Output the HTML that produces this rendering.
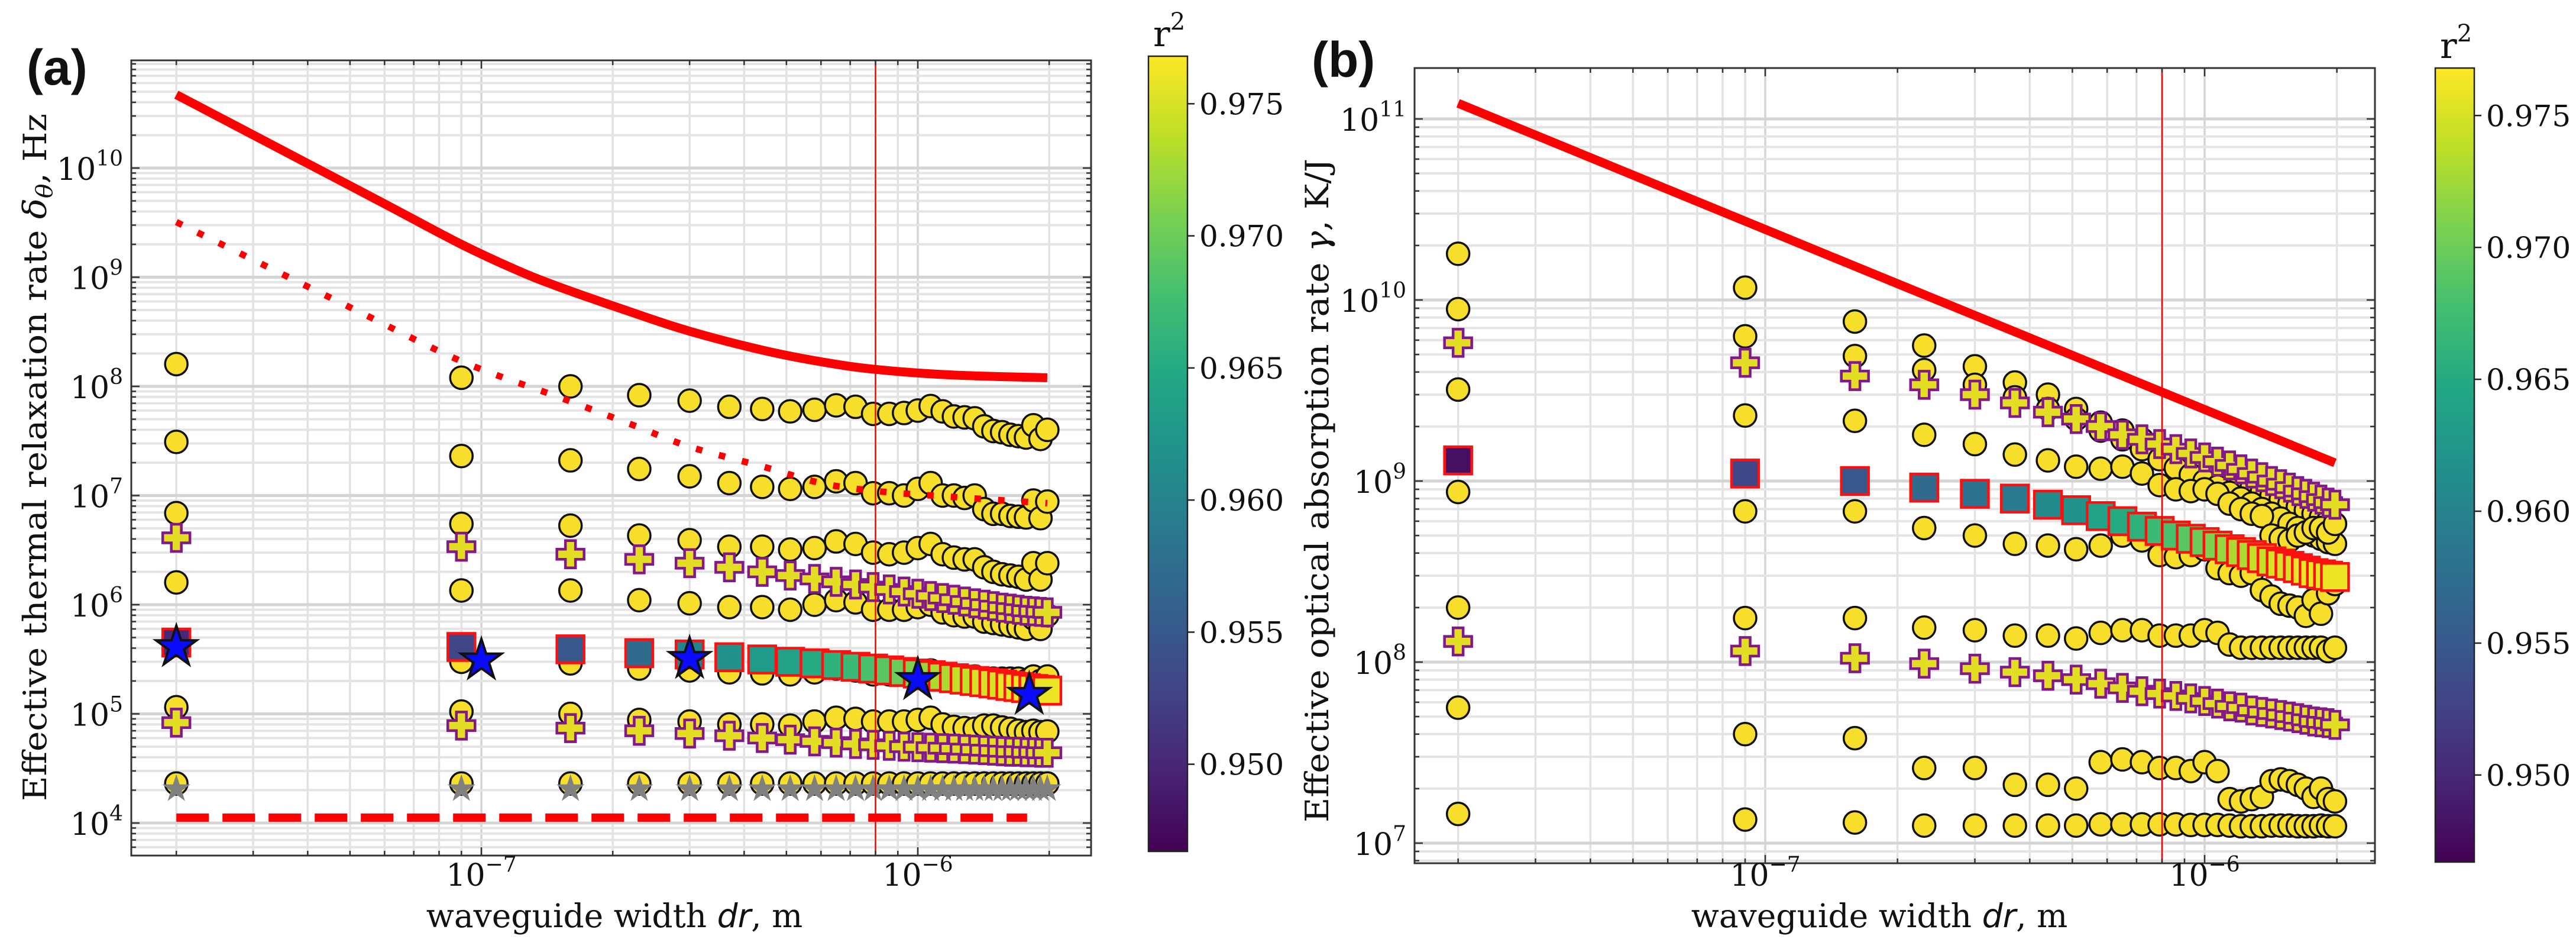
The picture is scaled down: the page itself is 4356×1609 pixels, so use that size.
<!DOCTYPE html>
<html><head><meta charset="utf-8">
<style>
html,body{margin:0;padding:0;background:#fff;}
svg{display:block;}
text{font-family:"DejaVu Serif","Liberation Serif",serif;fill:#111;}
</style></head>
<body>
<svg id="fig" width="4356" height="1609" viewBox="0 0 4356 1609" xmlns="http://www.w3.org/2000/svg">
<defs>
<linearGradient id="vir" x1="0" y1="1" x2="0" y2="0">
<stop offset="0" stop-color="#440154"/><stop offset="0.1" stop-color="#482475"/><stop offset="0.2" stop-color="#414487"/><stop offset="0.3" stop-color="#355f8d"/><stop offset="0.4" stop-color="#2a788e"/><stop offset="0.5" stop-color="#21918c"/><stop offset="0.6" stop-color="#22a884"/><stop offset="0.7" stop-color="#44bf70"/><stop offset="0.8" stop-color="#7ad151"/><stop offset="0.9" stop-color="#bddf26"/><stop offset="1" stop-color="#fde725"/>
</linearGradient>
<clipPath id="clipA"><rect x="222" y="102" width="1623" height="1344"/></clipPath>
<clipPath id="clipB"><rect x="2392" y="115" width="1624" height="1344"/></clipPath>
</defs>
<text x="45" y="143" style="font-family:'Liberation Sans',sans-serif;font-weight:bold;font-size:84px">(a)</text>
<text x="2218" y="130" style="font-family:'Liberation Sans',sans-serif;font-weight:bold;font-size:84px">(b)</text>
<g id="layer"></g>
</svg>
<script>
// ---------- shared categories ----------
const widthsNm = [20,90,160,230,300,370,440,510,580,650,720,790,860,930,1000,1070,1140,1210,1280,1350,1420,1490,1560,1630,1700,1770,1840,1910,1980];
const xTickLabels = ["\u22127","\u22126"];
const xTickExp = [-7,-6];
const cbTicks = [0.950,0.955,0.960,0.965,0.970,0.975];
const cbTickLabels = ["0.950","0.955","0.960","0.965","0.970","0.975"];
const vLineWidth = 800;

// ---------- panel (a) data ----------
const aC1 = [1.6e8,1.2e8,1.0e8,8.3e7,7.4e7,6.5e7,6.2e7,5.9e7,6.1e7,6.7e7,6.5e7,5.6e7,5.6e7,5.7e7,6.0e7,6.6e7,5.9e7,5.3e7,5.2e7,5.1e7,4.3e7,3.9e7,3.8e7,3.6e7,3.5e7,3.4e7,4.4e7,3.3e7,4.0e7];
const aC2 = [3.1e7,2.3e7,2.1e7,1.75e7,1.5e7,1.3e7,1.2e7,1.15e7,1.2e7,1.35e7,1.3e7,1.05e7,1.05e7,1.0e7,1.15e7,1.3e7,1.0e7,1.0e7,9.5e6,1.0e7,7.5e6,6.8e6,6.8e6,6.5e6,6.4e6,6.3e6,9.0e6,6.2e6,8.8e6];
const aC3 = [6.9e6,5.5e6,5.3e6,4.3e6,3.9e6,3.4e6,3.4e6,3.2e6,3.3e6,3.8e6,3.6e6,3.0e6,2.9e6,3.0e6,3.3e6,3.6e6,2.9e6,2.7e6,2.6e6,2.6e6,2.2e6,2.0e6,1.9e6,1.85e6,1.8e6,1.7e6,2.4e6,1.7e6,2.4e6];
const aC4 = [1.6e6,1.35e6,1.35e6,1.1e6,1.03e6,9.5e5,9.5e5,9.0e5,1.0e6,1.1e6,1.05e6,9.0e5,9.0e5,9.0e5,9.5e5,1.0e6,8.5e5,8.0e5,7.8e5,7.8e5,7.0e5,6.8e5,6.6e5,6.4e5,6.2e5,6.0e5,7.5e5,6.0e5,8.0e5];
const aC5 = [4.4e5,3.0e5,2.9e5,2.6e5,2.5e5,2.4e5,2.35e5,2.3e5,2.4e5,2.6e5,2.5e5,2.3e5,2.3e5,2.3e5,2.4e5,2.5e5,2.3e5,2.2e5,2.2e5,2.2e5,2.1e5,2.1e5,2.1e5,2.1e5,2.1e5,2.0e5,2.2e5,2.0e5,2.2e5];
const aC6 = [1.15e5,1.05e5,1.0e5,8.8e4,8.5e4,8.0e4,8.0e4,7.8e4,8.5e4,9.2e4,9.0e4,8.5e4,8.5e4,8.5e4,8.8e4,9.2e4,8.0e4,7.6e4,7.4e4,7.3e4,7.8e4,7.8e4,7.5e4,7.3e4,7.0e4,6.8e4,7.0e4,6.8e4,6.9e4];
const aC7 = [2.3e4,2.3e4,2.3e4,2.3e4,2.3e4,2.3e4,2.3e4,2.3e4,2.3e4,2.3e4,2.3e4,2.3e4,2.3e4,2.3e4,2.3e4,2.3e4,2.3e4,2.3e4,2.3e4,2.3e4,2.3e4,2.3e4,2.3e4,2.3e4,2.3e4,2.3e4,2.3e4,2.3e4,2.3e4];
const aGray = [2.05e4,2.05e4,2.05e4,2.05e4,2.05e4,2.05e4,2.05e4,2.05e4,2.05e4,2.05e4,2.05e4,2.05e4,2.05e4,2.05e4,2.05e4,2.05e4,2.05e4,2.05e4,2.05e4,2.05e4,2.05e4,2.05e4,2.05e4,2.05e4,2.05e4,2.05e4,2.05e4,2.05e4,2.05e4];
const aP1 = [4.1e6,3.4e6,2.9e6,2.6e6,2.4e6,2.2e6,2.0e6,1.85e6,1.72e6,1.62e6,1.53e6,1.45e6,1.38e6,1.32e6,1.26e6,1.2e6,1.15e6,1.11e6,1.07e6,1.03e6,1.0e6,9.7e5,9.4e5,9.2e5,9.0e5,8.8e5,8.7e5,8.6e5,8.5e5];
const aP2 = [8.3e4,7.8e4,7.4e4,7.0e4,6.6e4,6.3e4,6.0e4,5.8e4,5.6e4,5.45e4,5.3e4,5.2e4,5.1e4,5.0e4,4.95e4,4.9e4,4.85e4,4.8e4,4.75e4,4.7e4,4.65e4,4.6e4,4.55e4,4.5e4,4.5e4,4.45e4,4.45e4,4.4e4,4.4e4];
const aSq = [4.5e5,4.1e5,3.9e5,3.6e5,3.5e5,3.3e5,3.15e5,3.0e5,2.9e5,2.8e5,2.7e5,2.6e5,2.5e5,2.42e5,2.34e5,2.26e5,2.19e5,2.12e5,2.06e5,2.0e5,1.95e5,1.9e5,1.85e5,1.8e5,1.76e5,1.72e5,1.69e5,1.66e5,1.63e5];
const aSqR2 = [0.950,0.953,0.955,0.957,0.960,0.962,0.963,0.964,0.965,0.966,0.967,0.968,0.969,0.970,0.971,0.972,0.973,0.973,0.974,0.974,0.975,0.975,0.975,0.976,0.976,0.976,0.976,0.976,0.976];
const aStarW = [20,100,300,1000,1800];
const aStarV = [4.1e5,3.1e5,3.2e5,2.05e5,1.5e5];
const aSolidW = [20,40,60,90,120,150,220,300,440,600,800,1200,1980];
const aSolidV = [4.7e10,1.1e10,4.7e9,2.0e9,1.17e9,8.2e8,4.8e8,3.2e8,2.15e8,1.68e8,1.43e8,1.27e8,1.2e8];
const aDotW = [20,50,90,150,220,300,440,600,800,1200,1980];
const aDotV = [3.2e9,5.3e8,1.7e8,8e7,4.5e7,2.8e7,1.85e7,1.3e7,1.1e7,9.7e6,8.5e6];
const aDashW = [20,1780];
const aDashV = [1.12e4,1.12e4];

// ---------- panel (b) data ----------
const bC1 = [1.8e10,1.17e10,7.6e9,5.6e9,4.3e9,3.5e9,3.0e9,2.5e9,2.1e9,1.9e9,1.7e9,1.5e9,1.38e9,1.27e9,1.18e9,1.1e9,1.03e9,9.7e8,9.2e8,8.7e8,8.3e8,7.9e8,7.5e8,7.2e8,6.9e8,6.6e8,6.3e8,6.0e8,5.8e8];
const bC2 = [8.9e9,6.3e9,4.9e9,4.1e9,3.4e9,2.9e9,2.5e9,2.2e9,1.9e9,1.7e9,1.5e9,1.32e9,1.18e9,1.08e9,1.0e9,9.3e8,8.6e8,8.0e8,7.5e8,7.0e8,6.6e8,6.2e8,5.8e8,5.5e8,5.2e8,5.0e8,4.8e8,4.6e8,4.5e8];
const bC3 = [3.2e9,2.3e9,2.15e9,1.8e9,1.6e9,1.4e9,1.3e9,1.2e9,1.17e9,1.2e9,1.1e9,9.5e8,9.0e8,8.8e8,9.0e8,8.5e8,7.5e8,7.0e8,6.6e8,6.4e8,5.0e8,4.8e8,4.7e8,5.0e8,5.2e8,5.5e8,5.5e8,5.2e8,5.8e8];
const bC4 = [8.7e8,6.8e8,6.8e8,5.5e8,5.0e8,4.5e8,4.4e8,4.2e8,4.4e8,5.0e8,4.7e8,3.9e8,3.8e8,3.9e8,4.2e8,3.3e8,3.1e8,3.0e8,3.1e8,2.5e8,2.3e8,2.1e8,2.05e8,2.0e8,1.8e8,2.2e8,1.85e8,2.4e8,2.7e8];
const bC5 = [2.0e8,1.75e8,1.75e8,1.55e8,1.5e8,1.4e8,1.4e8,1.35e8,1.45e8,1.5e8,1.5e8,1.4e8,1.4e8,1.4e8,1.5e8,1.45e8,1.25e8,1.2e8,1.2e8,1.2e8,1.2e8,1.2e8,1.2e8,1.2e8,1.2e8,1.2e8,1.2e8,1.15e8,1.2e8];
const bC6 = [5.6e7,4.0e7,3.8e7,2.6e7,2.6e7,2.1e7,2.1e7,2.0e7,2.8e7,2.9e7,2.8e7,2.6e7,2.6e7,2.5e7,2.8e7,2.5e7,1.75e7,1.7e7,1.75e7,1.8e7,2.2e7,2.25e7,2.2e7,2.1e7,2.0e7,1.8e7,2.0e7,1.75e7,1.7e7];
const bC7 = [1.45e7,1.35e7,1.3e7,1.25e7,1.25e7,1.25e7,1.25e7,1.25e7,1.27e7,1.27e7,1.27e7,1.27e7,1.27e7,1.26e7,1.26e7,1.26e7,1.25e7,1.24e7,1.24e7,1.24e7,1.25e7,1.25e7,1.25e7,1.24e7,1.24e7,1.24e7,1.25e7,1.24e7,1.24e7];
const bP1 = [5.8e9,4.5e9,3.8e9,3.4e9,3.0e9,2.7e9,2.4e9,2.2e9,2.0e9,1.8e9,1.7e9,1.6e9,1.5e9,1.42e9,1.35e9,1.28e9,1.22e9,1.16e9,1.1e9,1.05e9,1.0e9,9.6e8,9.2e8,8.8e8,8.5e8,8.2e8,7.9e8,7.6e8,7.4e8];
const bP2 = [1.3e8,1.15e8,1.05e8,9.8e7,9.2e7,8.8e7,8.4e7,8.0e7,7.6e7,7.2e7,6.9e7,6.7e7,6.5e7,6.3e7,6.1e7,5.9e7,5.7e7,5.6e7,5.4e7,5.3e7,5.2e7,5.1e7,5.0e7,4.9e7,4.8e7,4.7e7,4.65e7,4.6e7,4.5e7];
const bSq = [1.3e9,1.1e9,1.0e9,9.2e8,8.5e8,8.0e8,7.4e8,6.9e8,6.4e8,6.0e8,5.6e8,5.3e8,5.0e8,4.8e8,4.6e8,4.4e8,4.2e8,4.05e8,3.9e8,3.75e8,3.6e8,3.5e8,3.4e8,3.3e8,3.2e8,3.1e8,3.05e8,3.0e8,2.95e8];
const bSqR2 = [0.948,0.953,0.955,0.957,0.958,0.959,0.961,0.962,0.964,0.965,0.966,0.967,0.968,0.969,0.970,0.971,0.972,0.973,0.973,0.974,0.974,0.975,0.975,0.975,0.976,0.976,0.976,0.976,0.976];
const bSolidW = [20,200,1980];
const bSolidV = [1.22e11,1.23e10,1.26e9];

// ---------- helpers ----------
const NS = "http://www.w3.org/2000/svg";
const layer = document.getElementById('layer');
function mk(tag, attrs, parent){ const e=document.createElementNS(NS,tag); for(const k in attrs) e.setAttribute(k,attrs[k]); (parent||layer).appendChild(e); return e; }
const VMIN=0.9467, VMAX=0.9768;
const VIR=[[68,1,84],[72,36,117],[65,68,135],[53,95,141],[42,120,142],[33,145,140],[34,168,132],[68,191,112],[122,209,81],[189,223,38],[253,231,37]];
function viridis(v){ let t=(v-VMIN)/(VMAX-VMIN); t=Math.max(0,Math.min(1,t)); const s=t*10, i=Math.min(9,Math.floor(s)), f=s-i; const a=VIR[i], b=VIR[i+1]; return 'rgb('+a.map((c,j)=>Math.round(c+(b[j]-c)*f)).join(',')+')'; }
function starPts(cx,cy,R){ const r=R*0.382; let p=[]; for(let i=0;i<10;i++){ const ang=-Math.PI/2+i*Math.PI/5; const rr=i%2?r:R; p.push((cx+rr*Math.cos(ang)).toFixed(1)+','+(cy+rr*Math.sin(ang)).toFixed(1)); } return p.join(' '); }
function plusPath(cx,cy,a,t){ return `M${cx-t},${cy-a}H${cx+t}V${cy-t}H${cx+a}V${cy+t}H${cx+t}V${cy+a}H${cx-t}V${cy+t}H${cx-a}V${cy-t}H${cx-t}Z`; }
function smoothPath(pts){ if(pts.length<3) return pts.map((p,i)=>(i?'L':'M')+p[0].toFixed(1)+','+p[1].toFixed(1)).join('');
  let d='M'+pts[0][0].toFixed(1)+','+pts[0][1].toFixed(1);
  for(let i=0;i<pts.length-1;i++){ const p0=pts[Math.max(0,i-1)],p1=pts[i],p2=pts[i+1],p3=pts[Math.min(pts.length-1,i+2)];
    const c1=[p1[0]+(p2[0]-p0[0])/6,p1[1]+(p2[1]-p0[1])/6], c2=[p2[0]-(p3[0]-p1[0])/6,p2[1]-(p3[1]-p1[1])/6];
    d+=`C${c1[0].toFixed(1)},${c1[1].toFixed(1)} ${c2[0].toFixed(1)},${c2[1].toFixed(1)} ${p2[0].toFixed(1)},${p2[1].toFixed(1)}`; }
  return d; }

function panel(P){
  const X = w => P.x0 + P.dec*(Math.log10(w*1e-9)+7);
  const Y = v => P.y0 - P.ydec*(Math.log10(v)-P.yref);
  const g = mk('g',{});
  
  
  const grid = mk('g',{'clip-path':`url(#${P.clip})`},g);
  
  
  for(let d=-8; d<=-6; d++) for(let m=1;m<=9;m++){ const x=P.x0+P.dec*(Math.log10(m)+d+7); if(x<P.L||x>P.R) continue; mk('line',{x1:x,x2:x,y1:P.T,y2:P.B,stroke:m===1?'#d4d4d4':'#e2e2e2','stroke-width':3.5},grid); }
  for(let d=P.ymin; d<=P.ymax; d++) for(let m=1;m<=9;m++){ const y=Y(m*Math.pow(10,d)); if(y<P.T||y>P.B) continue; mk('line',{x1:P.L,x2:P.R,y1:y,y2:y,stroke:m===1?'#d4d4d4':'#e4e4e4','stroke-width':m===1?5:4},grid); }
  const mg = mk('g',{'clip-path':`url(#${P.clip})`},g);
  P.circles.forEach((ser,si)=>{ ser.forEach((v,k)=>{ const c=mk('circle',{cx:X(widthsNm[k]),cy:Y(v),r:19,fill:'#f6de2a',stroke:'#111','stroke-width':3.5},mg);
    
     }); });
  if(P.gray){ P.gray.forEach((v,k)=>{ const s=mk('polygon',{points:starPts(X(widthsNm[k]),Y(v),25),fill:'#808080'},mg);
    
     }); }
  P.pluses.forEach(ser=>{ ser.forEach((v,k)=>{ const p=mk('path',{d:plusPath(X(widthsNm[k]),Y(v),23,8.5),fill:'#e3dd24',stroke:'#82188c','stroke-width':4.5,'stroke-linejoin':'miter'},mg);
    
     }); });
  P.sq.forEach((v,k)=>{ const cx=X(widthsNm[k]), cy=Y(v); const s=mk('rect',{x:cx-23,y:cy-23,width:46,height:46,fill:viridis(P.sqR2[k]),stroke:'#ff1010','stroke-width':4.5},mg);
    
     });
  if(P.starW){ P.starW.forEach((w,k)=>{ const s=mk('polygon',{points:starPts(X(w),Y(P.starV[k]),36),fill:'#0a0aff',stroke:'#111','stroke-width':4,'stroke-linejoin':'miter'},mg);
    
     }); }
  P.curves.forEach(c=>{ const pts=c.w.map((w,i)=>[X(w),Y(c.v[i])]); const e=mk('path',{d:smoothPath(pts),fill:'none',stroke:'#ff0000','stroke-width':c.sw,'stroke-dasharray':c.dash||'none'},mg);
    
     });
  const vx=X(vLineWidth);
  const vl=mk('line',{x1:vx,x2:vx,y1:P.T,y2:P.B,stroke:'#ff0000','stroke-width':2.5},mg);
  
  
  const fr=mk('rect',{x:P.L,y:P.T,width:P.R-P.L,height:P.B-P.T,fill:'none',stroke:'#333','stroke-width':3},g);
  
  
  for(let d=-8; d<=-6; d++) for(let m=1;m<=9;m++){ const x=P.x0+P.dec*(Math.log10(m)+d+7); if(x<P.L||x>P.R) continue; const len=m===1?14:8;
    mk('line',{x1:x,x2:x,y1:P.B,y2:P.B-len,stroke:'#333','stroke-width':2.5},g); mk('line',{x1:x,x2:x,y1:P.T,y2:P.T+len,stroke:'#333','stroke-width':2.5},g); }
  for(let d=P.ymin; d<=P.ymax; d++) for(let m=1;m<=9;m++){ const y=Y(m*Math.pow(10,d)); if(y<P.T||y>P.B) continue; const len=m===1?14:8;
    mk('line',{x1:P.L,x2:P.L+len,y1:y,y2:y,stroke:'#333','stroke-width':2.5},g); mk('line',{x1:P.R,x2:P.R-len,y1:y,y2:y,stroke:'#333','stroke-width':2.5},g); }
  xTickExp.forEach((e,i)=>{ const x=P.x0+P.dec*(e+7); const t=mk('text',{x:x,y:1497,'text-anchor':'middle','font-size':52},g);
    
    
    t.innerHTML=`10<tspan font-size="36" dy="-24">${xTickLabels[i]}</tspan>`; });
  for(let d=P.ymin; d<=P.ymax; d++){ const y=Y(Math.pow(10,d)); if(y<P.T||y>P.B) continue; const t=mk('text',{x:P.L-14,y:y+20,'text-anchor':'end','font-size':52},g);
    
    
    t.innerHTML=`10<tspan font-size="36" dy="-24">${d}</tspan>`; }
  const xl=mk('text',{x:P.xlx,y:1567,'text-anchor':'middle','font-size':55},g);
  
  
  xl.innerHTML='waveguide width <tspan font-style="italic" font-family="DejaVu Sans, sans-serif">dr</tspan>, m';
  const yl=mk('text',{x:0,y:0,'text-anchor':'middle','font-size':54,transform:`translate(${P.ylx},${P.ylc}) rotate(-90)`,textLength:P.yllen,lengthAdjust:'spacingAndGlyphs'},g);
  
  
  yl.innerHTML=P.ylabel;
  const cb=mk('rect',{x:P.cbx,y:P.cbt,width:66,height:P.cbb-P.cbt,fill:'url(#vir)',stroke:'#222','stroke-width':2.5},g);
  
  
  const cbY = v => P.cbb - (v-VMIN)/(VMAX-VMIN)*(P.cbb-P.cbt);
  cbTicks.forEach((v,i)=>{ const y=cbY(v); mk('line',{x1:P.cbx+66,x2:P.cbx+78,y1:y,y2:y,stroke:'#222','stroke-width':2.5},g);
    const t=mk('text',{x:P.cbx+86,y:y+18,'font-size':50},g);
    
    
    t.textContent=cbTickLabels[i]; });
  const r2=mk('text',{x:P.cbx+8,y:P.cbt-17,'font-size':60},g);
  
  
  r2.innerHTML='r<tspan font-size="40" dy="-28">2</tspan>';
}

panel({name:'panel-a', clip:'clipA', L:222,R:1845,T:102,B:1446, x0:814, dec:738, y0:1391, ydec:184.5, yref:4, ymin:3, ymax:10,
  circles:[aC1,aC2,aC3,aC4,aC5,aC6,aC7], gray:aGray, pluses:[aP1,aP2], sq:aSq, sqR2:aSqR2, starW:aStarW, starV:aStarV,
  curves:[{name:'red-solid-line',w:aSolidW,v:aSolidV,sw:15},{name:'red-dotted-line',w:aDotW,v:aDotV,sw:11,dash:'11 29'},{name:'red-dashed-line',w:aDashW,v:aDashV,sw:14,dash:'55 23'}],
  xlx:1039, ylx:78, ylc:773, yllen:1162, ylabel:'Effective thermal relaxation rate <tspan font-style="italic">δ</tspan><tspan font-size="38" dy="10" font-style="italic">θ</tspan><tspan dy="-10">, Hz</tspan>',
  cbx:1942, cbt:95, cbb:1439});
panel({name:'panel-b', clip:'clipB', L:2392,R:4016,T:115,B:1459, x0:2985, dec:743, y0:201, ydec:306, yref:11, ymin:6, ymax:11,
  circles:[bC1,bC2,bC3,bC4,bC5,bC6,bC7], gray:null, pluses:[bP1,bP2], sq:bSq, sqR2:bSqR2, starW:null,
  curves:[{name:'red-solid-line',w:bSolidW,v:bSolidV,sw:15}],
  xlx:3178, ylx:2246, ylc:829, yllen:1122, ylabel:'Effective optical absorption rate <tspan font-style="italic">γ</tspan>, K/J',
  cbx:4118, cbt:115, cbb:1457});
</script>
</body></html>
